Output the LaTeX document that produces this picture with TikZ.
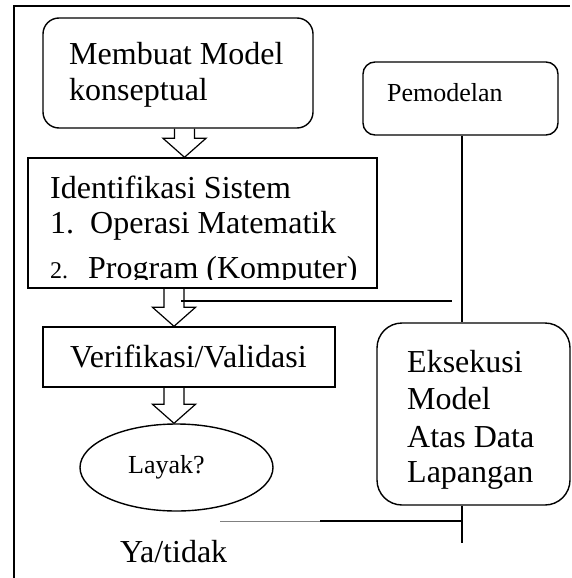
\documentclass[tikz,border=0pt]{standalone}
\usepackage{fontspec}
\setmainfont{Liberation Serif}
\usetikzlibrary{positioning, shapes.geometric, calc}

\begin{document}
\begin{tikzpicture}[x=1pt, y=-1pt,
	box/.style={draw, line width=1.4pt, inner sep=0pt},
	rbox/.style={box, rounded corners=16pt},
	txt/.style={anchor=base west, inner sep=0pt, font=\fontsize{32}{36}\selectfont},
	small/.style={txt, font=\fontsize{26}{30}\selectfont},
	link/.style={line width=1.2pt},
	hollow/.style={line width=1.2pt, to path={let \p1=(\tikztostart), \p2=(\tikztotarget) in
		(\x2-10pt,\y1) -- (\x2-10pt,\y2+19pt) -- (\x2-21.5pt,\y2+19pt) -- (\x2,\y2)
		-- (\x2+21.5pt,\y2+19pt) -- (\x2+10pt,\y2+19pt) -- (\x2+10pt,\y1)}}
]
	\useasboundingbox (0,0) rectangle (571,578);
	\draw[line width=1.4pt] (14,578) -- (14,6) -- (570,6);

	\node[rbox, minimum width=270pt, minimum height=110pt] (konsep) at (178,73) {};
	\node[txt] (konsep-1) at (69,65) {Membuat Model};
	\node[txt] (konsep-2) at (69,100) {konseptual};

	\node[box, minimum width=349pt, minimum height=130pt] (ident) at (202.5,223) {};
	\node[txt] (ident-1) at (50,198) {Identifikasi Sistem};
	\node[txt] (ident-2a) at (50,233) {1.};
	\node[txt] (ident-2b) at (90,233) {Operasi Matematik};
	\begin{scope}
		\clip (28,158) rectangle (377,279);
		\node[txt, font=\fontsize{24}{28}\selectfont] (ident-3a) at (50,278) {2.};
		\node[txt] (ident-3b) at (88,278) {Program (Komputer)};
	\end{scope}

	\node[rbox, rounded corners=12pt, minimum width=195pt, minimum height=73pt] (model) at (460.5,98.5) {};
	\node[small] (model-t) at (387,101) {Pemodelan};

	\node[box, minimum width=292pt, minimum height=60pt] (verif) at (189,357) {};
	\node[txt] (verif-t) at (70,367) {Verifikasi/Validasi};

	\node[box, ellipse, minimum width=193pt, minimum height=87pt] (layak) at (176.5,467.5) {};
	\node[small] (layak-t) at (128,473) {Layak?};

	\node[rbox, rounded corners=25pt, minimum width=193pt, minimum height=182pt] (eksekusi) at (473.5,414) {};
	\node[txt] (eksekusi-1) at (407,372) {Eksekusi};
	\node[txt] (eksekusi-2) at (407,409) {Model};
	\node[txt] (eksekusi-3) at (407,447) {Atas Data};
	\node[txt] (eksekusi-4) at (407,482) {Lapangan};

	\node[txt] (hasil) at (120,562) {Ya/tidak};

	\draw[hollow] ([xshift=6.5pt]konsep.south) to ([xshift=6.5pt]konsep.south |- ident.north);
	\draw[hollow] ([xshift=-28.5pt]ident.south) to ([xshift=-28.5pt]ident.south |- verif.north);
	\draw[hollow] ([xshift=-15pt]verif.south) to ([xshift=-15pt]verif.south |- layak.north);

	\coordinate (v) at (462,0);
	\coordinate (j1) at (181,301);
	\coordinate (j2) at (452,301);
	\coordinate (y1) at (220,521);
	\coordinate (y2) at (320,521);
	\draw[link] (model.south -| v) -- (eksekusi.north -| v);
	\draw[link] (eksekusi.south -| v) -- ++(0,37);
	\draw[link] (j1) -- (j2);
	\draw[gray, thin] (y1) -- (y2);
	\draw[link] (y2) -- (v |- y1);
\end{tikzpicture}
\end{document}
